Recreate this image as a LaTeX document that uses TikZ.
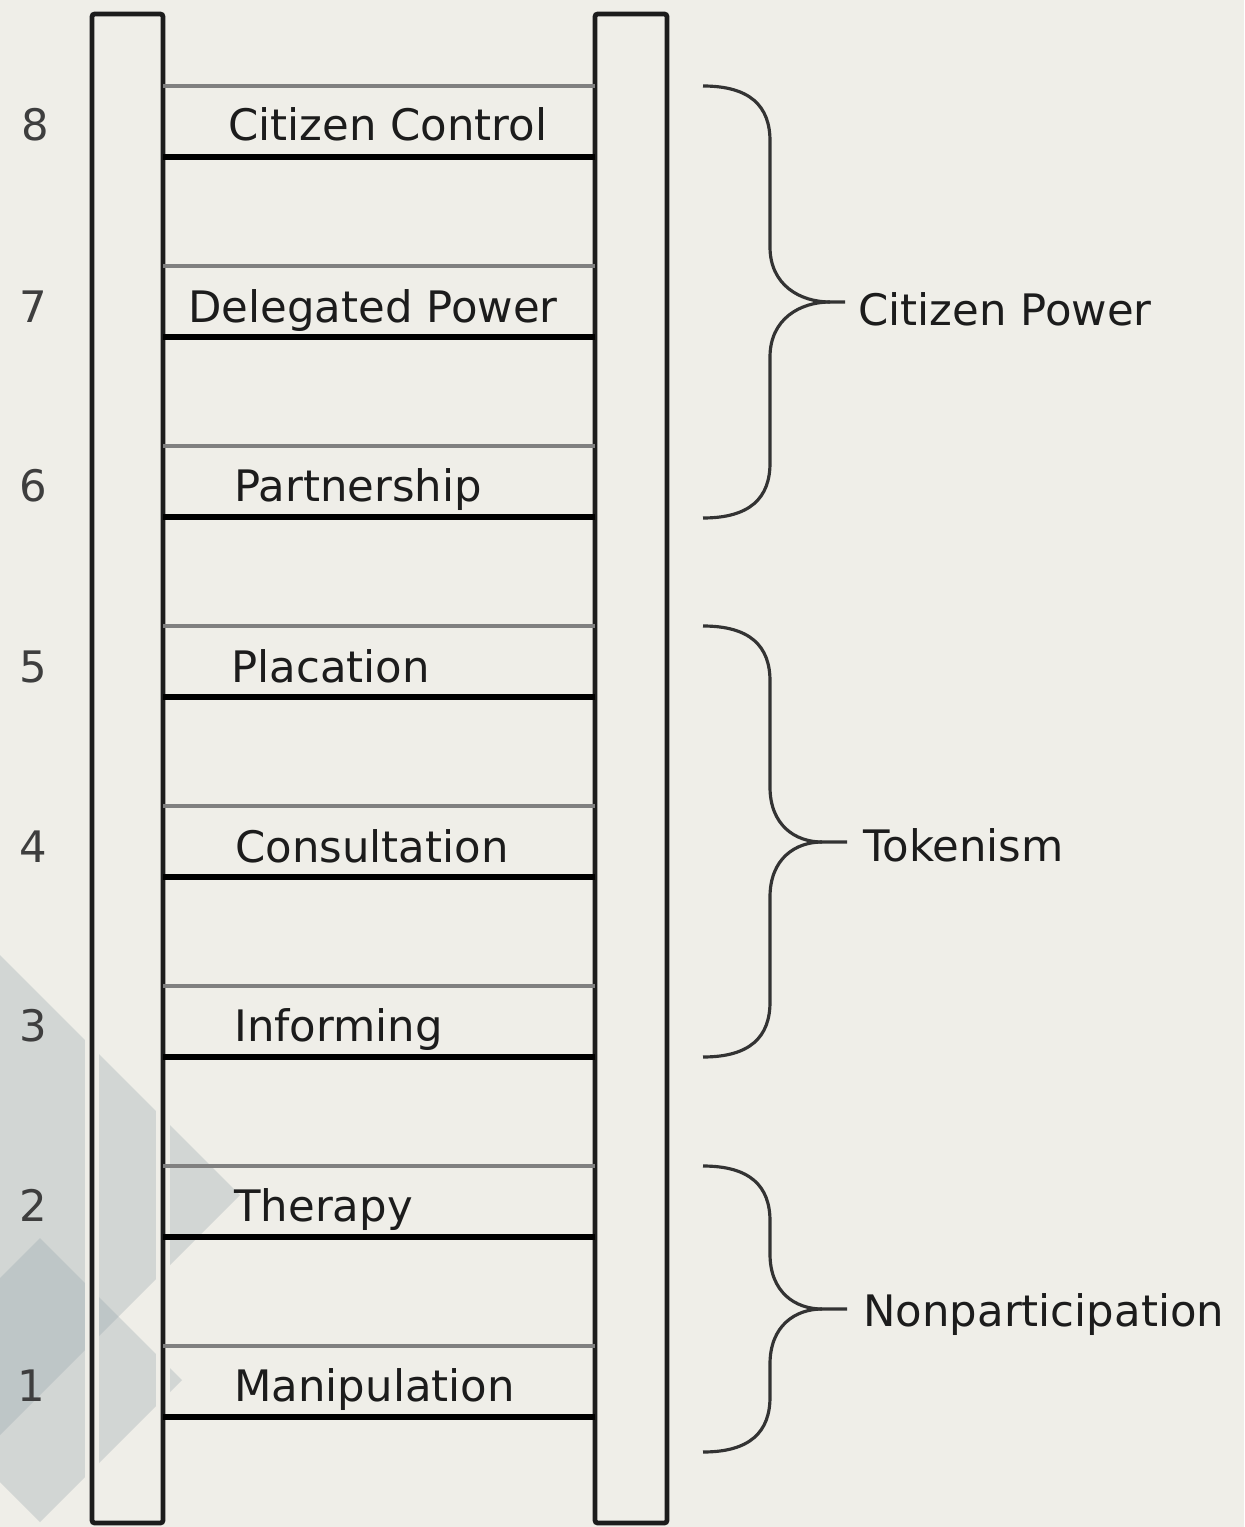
\documentclass[tikz,border=0pt]{standalone}
\usepackage{fontspec}
\setmainfont{DejaVu Sans}
\definecolor{paper}{RGB}{239,238,232}
\definecolor{shade}{RGB}{150,165,172}
\definecolor{rungline}{RGB}{128,128,128}
\definecolor{ink}{RGB}{28,28,28}
\tikzset{
  rail/.style={draw=ink, line width=2.7pt, rounded corners=1.5pt},
  railhalo/.style={draw=paper, line width=8pt},
  rungtop/.style={draw=rungline, line width=2.4pt},
  rungbot/.style={draw=black, line width=3pt},
  lbl/.style={anchor=base west, inner sep=0pt, text=ink, font=\fontsize{24.7}{30}\selectfont},
  num/.style={anchor=base, inner sep=0pt, text=ink!85, font=\fontsize{24.7}{30}\selectfont},
  brace/.style={draw=ink!90, line width=1.8pt},
  diam/.style={fill=shade, fill opacity=.32}
}
\begin{document}
\begin{tikzpicture}[x=0.02cm,y=-0.02cm]
            \useasboundingbox (0,0) rectangle (1244,1527);
            \fill[paper] (0,0) rectangle (1244,1527);
            % shaded diamonds behind the ladder
            \fill[diam] (0,955) -- (240,1195) -- (0,1435) -- cycle;
            \fill[diam] (0,1278) -- (40,1238) -- (182,1380) -- (40,1522) -- (0,1482) -- cycle;
            % rails
            \draw[railhalo] (92,14) rectangle (163,1523);
            \draw[railhalo] (595,14) rectangle (667,1523);
            \draw[rail] (92,14) rectangle (163,1523);
            \draw[rail] (595,14) rectangle (667,1523);
            % rungs
            \foreach \t in {86,266,446,626,806,986,1166,1346} {
                \draw[rungtop] (163,\t) -- (595,\t);
                \draw[rungbot] (163,\t+71) -- (595,\t+71);
            }
            \node[lbl] (r8) at (228,141) {Citizen Control};
            \node[lbl] (r7) at (188,322) {Delegated Power};
            \node[lbl] (r6) at (234,501) {Partnership};
            \node[lbl] (r5) at (231,682) {Placation};
            \node[lbl] (r4) at (235,862) {Consultation};
            \node[lbl] (r3) at (234,1041) {Informing};
            \node[lbl] (r2) at (234,1221) {Therapy};
            \node[lbl] (r1) at (234,1401) {Manipulation};
            \node[num] (n8) at (35,141) {8};
            \node[num] (n7) at (33,322) {7};
            \node[num] (n6) at (33,501) {6};
            \node[num] (n5) at (33,682) {5};
            \node[num] (n4) at (33,862) {4};
            \node[num] (n3) at (33,1041) {3};
            \node[num] (n2) at (33,1221) {2};
            \node[num] (n1) at (31,1401) {1};
            % braces
            \draw[brace] (703,86) .. controls (750,86) and (770,106) .. (770,141) -- (770,247) .. controls (770,285) and (800,302) .. (830,302) -- (845,302) coordinate (cpTip);
            \draw[brace] (703,518) .. controls (750,518) and (770,498) .. (770,463) -- (770,357) .. controls (770,319) and (800,302) .. (830,302);
            \node[lbl] (cp) at (858,325) {Citizen Power};
            \draw[brace] (703,626) .. controls (750,626) and (770,646) .. (770,681) -- (770,787) .. controls (770,825) and (795,842) .. (822,842) -- (847,842) coordinate (tkTip);
            \draw[brace] (703,1057) .. controls (750,1057) and (770,1037) .. (770,1002) -- (770,897) .. controls (770,859) and (795,842) .. (822,842);
            \node[lbl] (tk) at (863,861) {Tokenism};
            \draw[brace] (703,1166) .. controls (750,1166) and (770,1186) .. (770,1221) -- (770,1254) .. controls (770,1292) and (795,1309) .. (822,1309) -- (847,1309) coordinate (npTip);
            \draw[brace] (703,1452) .. controls (750,1452) and (770,1432) .. (770,1397) -- (770,1364) .. controls (770,1326) and (795,1309) .. (822,1309);
            \node[lbl] (np) at (863,1326) {Nonparticipation};
        \end{tikzpicture}
\end{document}
